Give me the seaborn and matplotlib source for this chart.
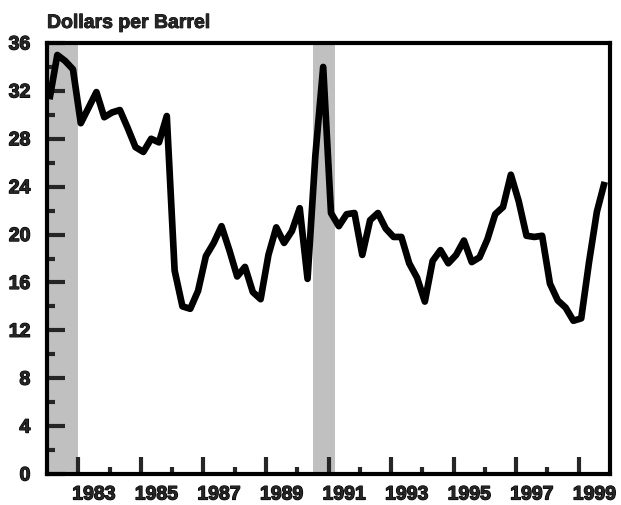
import numpy as np
import pandas as pd
import matplotlib
matplotlib.use("Agg")
import matplotlib.pyplot as plt
import matplotlib.patheffects as pe
import seaborn as sns

# Quarterly oil price, dollars per barrel, 1982Q1 - 1999Q4
years = list(range(1982, 2000))
prices = [
    31.3, 35.0, 34.5, 33.8,   # 1982
    29.3, 30.6, 31.9, 29.8,   # 1983
    30.2, 30.4, 28.9, 27.3,   # 1984
    26.9, 28.0, 27.7, 29.9,   # 1985
    17.0, 14.0, 13.8, 15.3,   # 1986
    18.2, 19.3, 20.7, 18.7,   # 1987
    16.5, 17.3, 15.2, 14.6,   # 1988
    18.3, 20.6, 19.3, 20.3,   # 1989
    22.2, 16.3, 26.6, 34.0,   # 1990
    21.8, 20.7, 21.7, 21.8,   # 1991
    18.3, 21.2, 21.8, 20.5,   # 1992
    19.8, 19.8, 17.6, 16.4,   # 1993
    14.4, 17.8, 18.7, 17.6,   # 1994
    18.3, 19.5, 17.7, 18.1,   # 1995
    19.6, 21.7, 22.3, 25.0,   # 1996
    22.8, 19.9, 19.8, 19.9,   # 1997
    15.9, 14.5, 13.9, 12.8,   # 1998
    13.0, 17.7, 21.9, 24.4,   # 1999
]

# Recession periods (shaded)
recessions = [(1981.5, 1983.0), (1990.5, 1991.2)]

year_labels = [str(y) for y in range(1983, 2000, 2)]
y_ticks = list(range(0, 37, 4))

heavy = [pe.withStroke(linewidth=0.9, foreground="black")]


def build_frame():
    quarters = [1, 2, 3, 4]
    rows = []
    i = 0
    for y in years:
        for q in quarters:
            rows.append({"time": y + (q - 1) / 4 + 0.08, "price": prices[i]})
            i += 1
    return pd.DataFrame(rows)


def plot_data(df):
    sns.set_style("white")
    plt.rcParams["font.family"] = ["Liberation Sans", "DejaVu Sans"]
    plt.rcParams["font.weight"] = "bold"

    fig = plt.figure(figsize=(6.21, 5.05), dpi=100)
    ax = fig.add_axes([47 / 621, 1 - 474 / 505, 563 / 621, 431 / 505])

    for start, end in recessions:
        ax.axvspan(start, end, color="#c0c0c0", lw=0, zorder=0)

    sns.lineplot(data=df, x="time", y="price", ax=ax, color="black",
                 linewidth=4.8, zorder=3)
    ax.lines[-1].set_solid_capstyle("butt")

    ax.set_xlim(1982, 2000)
    ax.set_ylim(0, 36)
    ax.set_xlabel("")
    ax.set_ylabel("")

    for s in ax.spines.values():
        s.set_visible(True)
        s.set_color("black")
        s.set_linewidth(3)

    # y axis ticks
    ax.set_yticks(y_ticks)
    ax.set_yticklabels([str(v) for v in y_ticks], fontsize=14, fontweight="bold")
    ax.set_yticks(list(range(2, 36, 4)), minor=True)
    ax.tick_params(axis="y", which="major", direction="in", length=13,
                   width=3, pad=12, left=True, right=False)
    ax.tick_params(axis="y", which="minor", direction="in", length=6,
                   width=3, left=True, right=False)
    for t in ax.get_yticklabels():
        t.set_path_effects(heavy)

    # x axis tick marks at year boundaries
    ax.set_xticks(list(range(1983, 2000, 2)))
    ax.set_xticklabels([])
    ax.set_xticks(list(range(1984, 2000, 2)), minor=True)
    ax.tick_params(axis="x", which="major", direction="in", length=12,
                   width=3, bottom=True, top=False)
    ax.tick_params(axis="x", which="minor", direction="in", length=5,
                   width=3, bottom=True, top=False)

    # year labels centred on each year
    sec = ax.secondary_xaxis("bottom")
    sec.set_xticks([int(l) + 0.5 for l in year_labels])
    sec.set_xticklabels(year_labels, fontsize=14, fontweight="bold")
    sec.tick_params(length=0, pad=9)
    sec.spines["bottom"].set_visible(False)
    for t in sec.get_xticklabels():
        t.set_path_effects(heavy)

    ax.text(0, 1.035, "Dollars per Barrel", transform=ax.transAxes,
            fontsize=14, fontweight="bold", ha="left", va="baseline",
            path_effects=[pe.withStroke(linewidth=0.6, foreground="black")])

    plt.savefig("out.png", dpi=100)


def main():
    df = build_frame()
    plot_data(df)


if __name__ == "__main__":
    main()
